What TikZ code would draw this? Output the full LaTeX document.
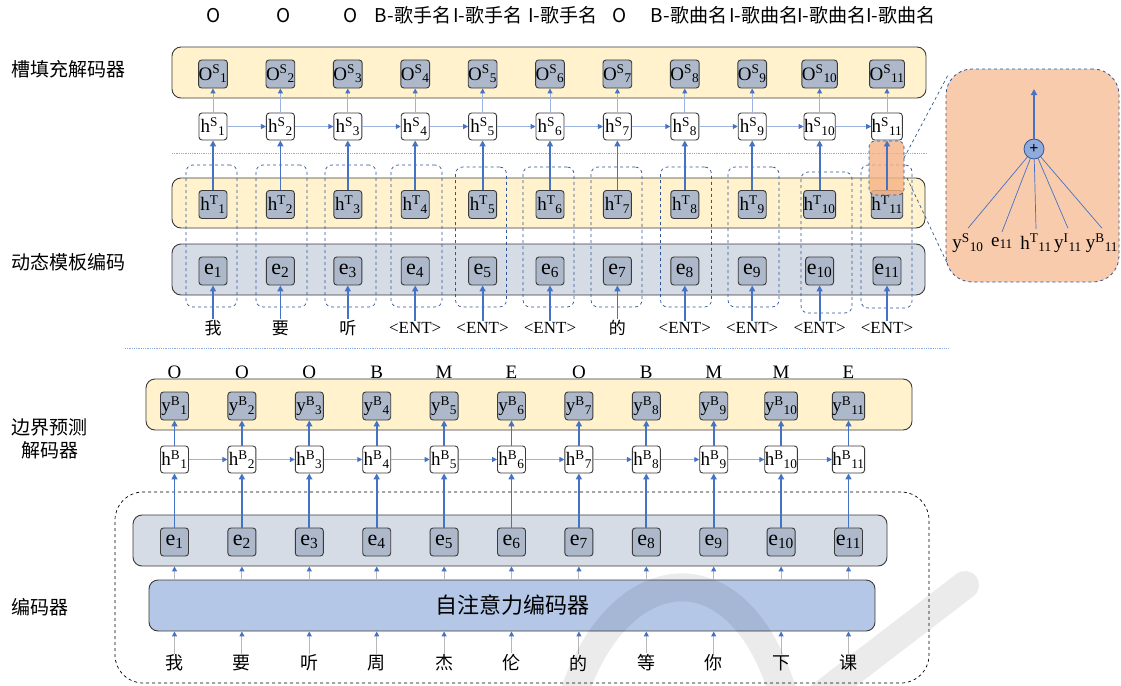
\documentclass[tikz,border=0pt]{standalone}
\usepackage{fontspec}
\setmainfont{Liberation Serif}
\newfontfamily\cjk{Noto Sans CJK SC}
\usetikzlibrary{arrows.meta,calc}
\definecolor{ablue}{HTML}{4472C4}
\definecolor{lblue}{HTML}{8FAADC}
\definecolor{thinl}{HTML}{9DB2DC}
\definecolor{bandY}{HTML}{FFF2CC}
\definecolor{bandG}{HTML}{D6DCE5}
\definecolor{nodeG}{HTML}{ADB9CA}
\definecolor{encB}{HTML}{B4C7E7}
\definecolor{orgL}{HTML}{F8CBAD}
\definecolor{orgD}{HTML}{F4B183}
\definecolor{dblue}{HTML}{2F5597}
\definecolor{edgec}{HTML}{3A3A3A}
\newcommand\mysst[3]{#1\textsuperscript{#2}\textsubscript{#3}}
\begin{document}
\begin{tikzpicture}[x=1pt,y=-1pt,
  band/.style={draw=edgec,line width=0.9pt,rounded corners=9pt,inner sep=0pt},
  gbox/.style={draw=edgec,fill=nodeG,line width=0.9pt,rounded corners=3pt,minimum width=28pt,minimum height=28pt,inner sep=0pt,font=\fontsize{19}{19}\selectfont},
  wbox/.style={gbox,fill=white,minimum height=27pt},
  ebox/.style={gbox,font=\fontsize{22}{22}\selectfont},
  colbox/.style={draw=dblue,dashed,line width=0.7pt,rounded corners=7pt,inner sep=0pt,minimum width=51pt},
  tarr/.style={draw=ablue,line width=1.8pt,-{Triangle[length=6pt,width=6pt]}},
  narr/.style={draw=thinl,line width=1pt,-{Triangle[length=5pt,width=5pt,color=ablue]}},
  garr/.style={draw=black!28,line width=1pt,-{Triangle[length=5pt,width=5pt,color=ablue]}},
  toplab/.style={font=\cjk\fontsize{19}{19}\selectfont,inner sep=0pt},
  sidelab/.style={font=\cjk\fontsize{19}{23}\selectfont,inner sep=0pt,align=center},
  tok/.style={font=\fontsize{17}{17}\selectfont,inner sep=1pt},
  ptok/.style={font=\fontsize{19}{19}\selectfont,inner sep=1pt},
  ctok/.style={font=\cjk\fontsize{17}{17}\selectfont,inner sep=1pt},
  blab/.style={font=\fontsize{19}{19}\selectfont,inner sep=0pt}
]
\useasboundingbox (0,0) rectangle (1121,685);

% ---------- side labels ----------
\node[sidelab] (L1) at (69,69) {槽填充解码器};
\node[sidelab] (L2) at (69,262) {动态模板编码};
\node[sidelab] (L3) at (49.5,438.5) {边界预测\\解码器};
\node[sidelab] (L4) at (40,607) {编码器};

% ---------- top labels ----------
\foreach \t/\xx [count=\k] in {O/214,O/284,O/351,B-歌手名/413,I-歌手名/488,I-歌手名/563,O/620,B-歌曲名/689,I-歌曲名/764,I-歌曲名/832,I-歌曲名/901}
  \node[toplab] (tl\k) at (\xx,15.5) {\t};

% ---------- upper bands ----------
\node[band,fill=bandY,minimum width=754pt,minimum height=51pt] (sband) at (549,72.5) {};
\node[band,fill=bandY,minimum width=753pt,minimum height=50pt] (tband) at (548.5,203) {};
\node[band,fill=bandG,minimum width=753pt,minimum height=51pt] (eband) at (548.5,269.5) {};

% separators
\coordinate (s1a) at (172,153); \coordinate (s1b) at (928,153);
\coordinate (s2a) at (125,348); \coordinate (s2b) at (948,348);
\draw[lblue,line width=0.8pt,densely dotted] (s1a) -- (s1b);
\draw[lblue,line width=0.8pt,densely dotted] (s2a) -- (s2b);

% dashed column boxes
\foreach \cx/\ya/\yb [count=\k] in {211.5/165/307,281.5/165/307,350.5/165/307,416.5/165/307,481/167/307,548.5/167/307,616.5/167/307,686/167/307,753.5/167/307,826.5/172/313,886.5/165/308}{
  \pgfmathsetmacro\hh{\yb-\ya}
  \node[colbox,minimum height=\hh pt] (cb\k) at (\cx,{(\ya+\yb)/2}) {};
}

% nodes of upper part
\foreach \i in {1,...,11}{
  \pgfmathsetmacro\xx{213+67.4*(\i-1)}
  \node[gbox] (os\i) at (\xx,74) {\mysst{O}{S}{\i}};
  \node[wbox] (hs\i) at (\xx,126.5) {\mysst{h}{S}{\i}};
  \node[gbox] (ht\i) at (\xx,204.5) {\mysst{h}{T}{\i}};
  \node[ebox] (me\i) at (\xx,271) {e\textsubscript{\i}};
}
\foreach \t [count=\i] in {我,要,听}
  \node[ctok] (mt\i) at ({213+67.4*(\i-1)},328) {\t};
\foreach \i in {4,5,6,8,9,10,11}
  \node[tok] (mt\i) at ({213+67.4*(\i-1)},328) {<ENT>};
\node[ctok] (mt7) at ({213+67.4*6},328) {的};

% highlight
\node[draw=dblue,dashed,line width=0.7pt,fill=orgD,fill opacity=0.8,rounded corners=6pt,minimum width=35pt,minimum height=54pt,inner sep=0pt] (hl) at (886.5,168) {};

% arrows upper part
\foreach \i in {1,...,11}{
  \draw[narr] (hs\i.north) -- (os\i.south);
  \draw[tarr] (ht\i.north) -- (hs\i.south);
  \draw[tarr] (mt\i.north) -- (me\i.south);
}
\foreach \i [evaluate=\i as \j using int(\i+1)] in {1,...,10}
  \draw[narr] (hs\i.east) -- (hs\j.west);

% zoom panel
\node[draw=dblue,dashed,line width=0.8pt,fill=orgL,rounded corners=26pt,minimum width=173pt,minimum height=213pt,inner sep=0pt] (panel) at (1032.5,175.5) {};
\coordinate (z1) at (904,158); \coordinate (z2) at (948,75);
\coordinate (z3) at (907,178); \coordinate (z4) at (948,265);
\draw[dblue,dashed,line width=0.7pt] (z1) -- (z2);
\draw[dblue,dashed,line width=0.7pt] (z3) -- (z4);
\node[circle,draw=dblue,fill=lblue,line width=0.8pt,minimum size=20pt,inner sep=0pt,font=\bfseries\fontsize{16}{16}\selectfont] (plus) at (1034,149) {+};
\coordinate (ptop) at (1034,89);
\draw[tarr] (plus.north) -- (ptop);
\node[ptok] (p1) at (968,243) {\mysst{y}{S}{10}};
\node[ptok] (p2) at (1002,243) {e\textsubscript{11}};
\node[ptok] (p3) at (1036,243) {\mysst{h}{T}{11}};
\node[ptok] (p4) at (1068,243) {\mysst{y}{I}{11}};
\node[ptok] (p5) at (1102,243) {\mysst{y}{B}{11}};
\foreach \k in {1,...,5}
  \draw[ablue,line width=0.7pt] (plus) -- ($(p\k.north)+(0,-4)$);

% ---------- lower part ----------
\node[band,fill=bandY,minimum width=766pt,minimum height=51pt] (bband) at (529,404.5) {};
\node[draw=black,dashed,line width=0.7pt,rounded corners=28pt,minimum width=814pt,minimum height=191pt,inner sep=0pt] (outer) at (522,587.5) {};
\node[band,fill=bandG,minimum width=754pt,minimum height=51pt] (gband) at (510,540.5) {};
\node[band,fill=encB,minimum width=726pt,minimum height=51pt,font=\cjk\fontsize{22}{22}\selectfont] (enc) at (512,605.5) {自注意力编码器};

\foreach \t [count=\i] in {O,O,O,B,M,E,O,B,M,M,E}{
  \pgfmathsetmacro\xx{174.5+67.4*(\i-1)}
  \node[blab] (bl\i) at (\xx,372) {\t};
  \node[gbox] (yb\i) at (\xx,406) {\mysst{y}{B}{\i}};
  \node[wbox] (hb\i) at (\xx,459.5) {\mysst{h}{B}{\i}};
  \node[ebox] (be\i) at (\xx,542) {e\textsubscript{\i}};
}
\foreach \t [count=\i] in {我,要,听,周,杰,伦,的,等,你,下,课}
  \node[ctok,font=\cjk\fontsize{18}{18}\selectfont] (bt\i) at ({174.5+67.4*(\i-1)},663) {\t};

\foreach \i in {1,...,11}{
  \draw[tarr] (hb\i.north) -- (yb\i.south);
  \draw[tarr] (be\i.north) -- (hb\i.south);
  \draw[garr] (enc.north -| be\i) -- (gband.south -| be\i);
  \draw[garr] (bt\i.north) -- (enc.south -| bt\i);
}
\foreach \i [evaluate=\i as \j using int(\i+1)] in {1,...,10}
  \draw[narr] (hb\i.east) -- (hb\j.west);

% faint watermark strokes
\draw[black,opacity=0.08,line width=28pt,line cap=round] (572,700) .. controls (615,560) and (740,540) .. (785,700);
\draw[black,opacity=0.08,line width=28pt,line cap=round] (815,700) -- (965,585);
\end{tikzpicture}
\end{document}
